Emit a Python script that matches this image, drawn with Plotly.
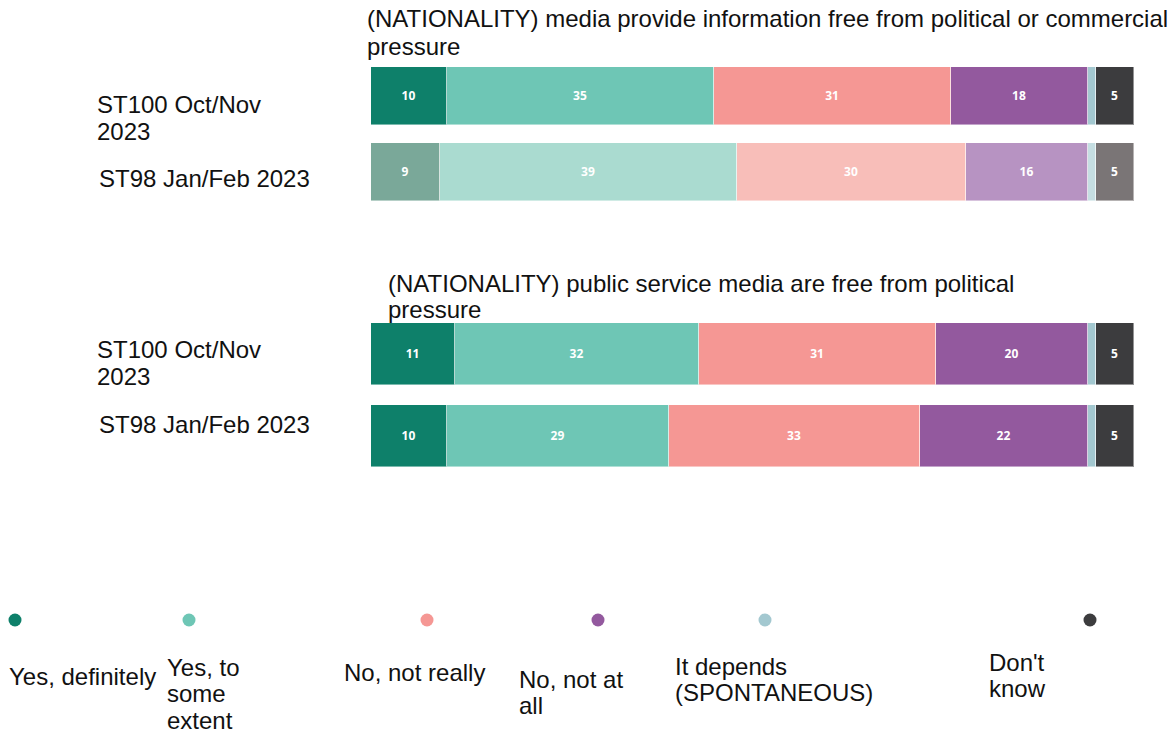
import plotly.graph_objects as go

# Survey answers, in stacking order
categories = ["Yes, definitely", "Yes, to some extent", "No, not really",
              "No, not at all", "It depends (SPONTANEOUS)", "Don't know"]
# Legend labels, wrapped line by line
legend_lines = [["Yes, definitely"], ["Yes, to", "some", "extent"], ["No, not really"],
                ["No, not at", "all"], ["It depends", "(SPONTANEOUS)"], ["Don't", "know"]]

questions = [
    ["(NATIONALITY) media provide information free from political or commercial", "pressure"],
    ["(NATIONALITY) public service media are free from political", "pressure"],
]
waves = [["ST100 Oct/Nov", "2023"], ["ST98 Jan/Feb 2023"]]

# Percentages per row: Q1 ST100, Q1 ST98, Q2 ST100, Q2 ST98
yes_definitely = [10, 9, 11, 10]
yes_some_extent = [35, 39, 32, 29]
no_not_really = [31, 30, 31, 33]
no_not_at_all = [18, 16, 20, 22]
it_depends = [1, 1, 1, 1]
dont_know = [5, 5, 5, 5]
series = [yes_definitely, yes_some_extent, no_not_really, no_not_at_all, it_depends, dont_know]

colors = ["#0e806a", "#6ec6b5", "#f59794", "#93599e", "#a3c8d0", "#3c3c3e"]
faded = ["#7aa899", "#aadbd0", "#f8beb9", "#b793c2", "#c5dee2", "#7a7576"]

# Row placement (pixel units on a reversed y axis)
row_y = [96, 172, 354, 436]
row_h = [58, 58, 62, 62]
row_faded = [False, True, False, False]

W, H = 1176, 733
fig = go.Figure()

for i, (name, vals) in enumerate(zip(categories, series)):
    fig.add_trace(go.Bar(
        orientation="h",
        y=row_y,
        x=vals,
        width=row_h,
        name=name,
        marker=dict(
            color=[faded[i] if f else colors[i] for f in row_faded],
            line=dict(color="rgba(255,255,255,0.45)", width=1),
        ),
        text=["" if name.startswith("It depends") else str(v) for v in vals],
        textposition="inside",
        insidetextanchor="middle",
        textangle=0,
        textfont=dict(family="Open Sans", size=12, color="white", weight="bold"),
        constraintext="none",
        hoverinfo="skip",
        showlegend=False,
    ))

# Legend dots on a pixel-scaled axis spanning the full width
legend_x = [15, 189, 427, 598, 765, 1090]
fig.add_trace(go.Scatter(
    x=legend_x, y=[620] * 6, mode="markers", xaxis="x2", yaxis="y",
    marker=dict(color=colors, size=13, line=dict(width=0)),
    hoverinfo="skip", showlegend=False,
))

ann = []
font = dict(family="Liberation Sans, Arial, sans-serif", size=24, color="#111111")


def label(lines, x, y, step=27):
    for k, t in enumerate(lines):
        ann.append(dict(text=t, x=(x - 1) / W, y=y + k * step, xref="paper", yref="y",
                        xanchor="left", yanchor="middle", align="left",
                        showarrow=False, font=font, borderpad=0))


# Question titles
label(questions[0], 367, 18, 28)
label(questions[1], 388, 283, 26)

# Wave labels beside each bar
label(waves[0], 97, 104)
label(waves[1], 99, 178)
label(waves[0], 97, 349)
label(waves[1], 99, 424)

# Legend labels
legend_label_pos = [(9, 676), (167, 667), (344, 672), (519, 679), (675, 666), (989, 662)]
for lines, (x, y) in zip(legend_lines, legend_label_pos):
    label(lines, x, y, 26.5)

x0, x1 = 371, 1134
fig.update_layout(
    width=W, height=H,
    margin=dict(l=0, r=0, t=0, b=0),
    paper_bgcolor="white", plot_bgcolor="rgba(0,0,0,0)",
    barmode="stack", bargap=0,
    xaxis=dict(domain=[x0 / W, x1 / W], range=[0, 100], visible=False, fixedrange=True),
    xaxis2=dict(domain=[0, 1], range=[0, W], anchor="y", visible=False, fixedrange=True),
    yaxis=dict(domain=[0, 1], range=[H, 0], visible=False, fixedrange=True),
    annotations=ann,
)

fig.write_html("out.html")
